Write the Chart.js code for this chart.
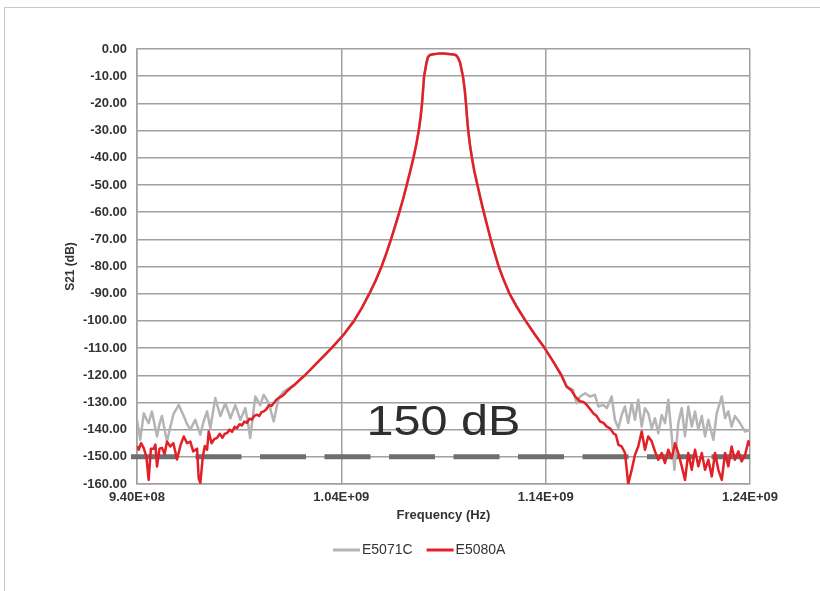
<!DOCTYPE html>
<html>
<head>
<meta charset="utf-8">
<script src="https://cdn.jsdelivr.net/npm/chart.js@4.4.1/dist/chart.umd.min.js"></script>
<style>
  html, body { margin: 0; padding: 0; background: #fff; }
  #wrap { position: relative; width: 820px; height: 591px; overflow: hidden; }
  #frame { position: absolute; left: 4px; top: 7px; width: 830px; height: 600px;
           border-top: 1.5px solid #c8c8c8; border-left: 1.5px solid #c8c8c8; }
  canvas { position: absolute; left: 0; top: 0; }
</style>
</head>
<body>
<div id="wrap">
  <div id="frame"></div>
  <canvas id="c" width="820" height="591"></canvas>
</div>
<script>
// ---------- data (frequency in MHz, level in dB) ----------
const seriesNames = ['E5071C', 'E5080A'];
const xTickValues = [940, 1040, 1140, 1240];
const xTickLabels = ['9.40E+08', '1.04E+09', '1.14E+09', '1.24E+09'];
const thresholdDb = -150;
const thresholdText = '150 dB';
const thresholdTextFreq = 1090;
const thresholdTextDb = -141.8;

// common filter skirt (both analyzers)
const skirtFreq = [1022.2, 1028.7, 1035.2, 1041.2, 1046.2, 1050.2, 1053.7, 1056.9, 1059.7, 1062.1,
  1064.3, 1066.4, 1068.4, 1070.3, 1072.0, 1073.7, 1075.3, 1076.7, 1077.9, 1078.8,
  1079.5, 1080.0, 1080.5, 1081.7, 1082.4, 1083.3, 1085.0, 1087.5, 1090.0, 1092.5,
  1095.0, 1096.3, 1097.1, 1098.1, 1099.5, 1100.4, 1101.0, 1101.5, 1102.1, 1102.9,
  1103.9, 1105.1, 1106.6, 1108.1, 1109.7, 1111.4, 1113.1, 1115.0, 1117.0, 1119.5,
  1122.3, 1126.0, 1130.2, 1134.7, 1139.5, 1143.7, 1147.7];
const skirtDb = [-120, -115, -110, -105, -100, -95, -90, -85, -80, -75,
  -70, -65, -60, -55, -50, -45, -40, -35, -30, -25,
  -20, -15, -10, -5, -3, -2.2, -1.9, -1.7, -1.7, -1.8,
  -2.0, -2.4, -3.2, -5, -10, -15, -20, -25, -30, -35,
  -40, -45, -50, -55, -60, -65, -70, -75, -80, -85,
  -90, -95, -100, -105, -110, -115, -120];

// E5080A (red) noise floor
const e5080aLeftFreq = [940.0, 940.8, 942.0, 943.3, 944.6, 945.7, 946.8, 948.2, 949.0, 949.8,
  951.0, 952.2, 953.5, 954.7, 956.3, 957.8, 959.6, 961.2, 962.9, 964.5,
  966.1, 967.5, 969.4, 970.2, 971.0, 972.2, 973.2, 974.3, 975.1, 976.5,
  977.8, 979.2, 980.5, 981.8, 983.0, 984.0, 985.3, 986.5, 987.8, 988.9,
  990.2, 991.3, 992.6, 993.8, 995.0, 996.2, 997.4, 998.6, 999.8, 1001.0,
  1002.0, 1003.3, 1004.6, 1005.8, 1006.9, 1008.2, 1009.5, 1010.7, 1011.8, 1013.5,
  1015.0, 1016.7, 1018.3, 1020.2];
const e5080aLeftDb = [-146, -147.4, -145, -146.8, -150, -158.5, -147, -147, -145.5, -153.6,
  -147, -146.7, -149, -144.4, -146.2, -145, -151, -146, -142.5, -145,
  -144.4, -148, -147, -158, -159.6, -150, -146, -147.4, -140.7, -145,
  -143.5, -143, -141.5, -143, -141.5, -141.3, -140, -140.8, -139, -139.5,
  -138, -138.5, -137, -137.5, -136, -136.3, -135, -134.5, -135, -133.5,
  -133.3, -132.5, -131, -131.3, -130.3, -129, -128.3, -127.8, -127.2, -125.8,
  -124.8, -123.8, -122.6, -121.3];
const e5080aRightFreq = [1150.3, 1152.5, 1154.4, 1156.8, 1158.5, 1160.1, 1161.8, 1163.3, 1165.0, 1166.6,
  1168.3, 1169.9, 1171.5, 1173.1, 1174.4, 1175.6, 1177.2, 1178.8, 1180.4, 1182.1,
  1183.7, 1185.3, 1187.0, 1188.6, 1190.2, 1191.9, 1193.5, 1195.1, 1196.8, 1198.4,
  1200.0, 1201.7, 1203.3, 1204.9, 1206.6, 1208.2, 1209.8, 1211.5, 1213.1, 1214.7,
  1216.4, 1218.0, 1219.6, 1221.3, 1222.9, 1224.5, 1226.2, 1227.8, 1229.4, 1231.0,
  1232.6, 1234.3, 1235.9, 1237.6, 1239.2, 1240.0];
const e5080aRightDb = [-124.2, -125.5, -127.8, -129.6, -129.8, -130.9, -132.5, -134, -135, -137,
  -137.5, -138.9, -139.5, -141.3, -142, -145.6, -146.2, -148.5, -160, -154.8,
  -149.3, -146.2, -140.7, -147.4, -142.5, -144.3, -148, -151.1, -148.6, -152.3,
  -147.4, -150.5, -145, -148.6, -153.5, -158.5, -148.6, -154.8, -147.4, -153.5,
  -148.6, -154.8, -151.1, -157.2, -148.6, -154.8, -158.5, -148.6, -153.5, -146.2,
  -151.1, -148, -151.7, -149.3, -144.3, -146];

// E5071C (grey) noise floor
const e5071cLeftFreq = [940.0, 941.6, 943.3, 944.5, 945.7, 947.3, 948.6, 949.8, 951.0, 952.2,
  953.5, 954.7, 956.3, 958.0, 960.4, 962.9, 964.5, 966.1, 968.5, 971.0,
  972.6, 974.3, 975.9, 978.3, 980.8, 983.2, 985.7, 988.1, 990.6, 993.0,
  994.2, 995.4, 997.9, 1000.3, 1002.0, 1004.5, 1006.9, 1009.3, 1011.8, 1014.9, 1018.3];
const e5071cLeftDb = [-136.4, -143.8, -134, -136, -137.6, -133.3, -138, -142.5, -138, -135,
  -140, -144.3, -139, -134, -131, -135, -138, -140, -136.4, -141.9,
  -137, -133.3, -139.5, -128.4, -135, -130.3, -135.8, -131, -136.4, -132.1,
  -137, -143.1, -127.8, -131, -127.2, -130.3, -137, -128.4, -126, -124.5, -122.8];
const e5071cRightFreq = [1150.3, 1153.4, 1155.2, 1156.8, 1159.3, 1161.7, 1164.1, 1165.8, 1168.2, 1169.9,
  1172.3, 1173.9, 1175.6, 1177.2, 1178.8, 1180.4, 1182.1, 1183.7, 1185.3, 1187.0,
  1188.6, 1190.2, 1191.9, 1193.5, 1195.1, 1196.8, 1198.4, 1200.0, 1201.7, 1203.0,
  1204.9, 1206.6, 1208.2, 1209.8, 1211.5, 1213.1, 1214.7, 1216.4, 1218.0, 1219.6,
  1222.1, 1223.7, 1226.2, 1227.8, 1229.4, 1231.0, 1232.6, 1235.1, 1237.6, 1240.0];
const e5071cRightDb = [-124.2, -125.4, -130.3, -127.8, -126.6, -127.8, -127.2, -131.5, -130.9, -132.1,
  -127.8, -136.4, -139.5, -134.6, -131.5, -137.6, -130.3, -136.4, -129, -138.9,
  -132.1, -134, -139.5, -135.8, -141.3, -134.6, -137.6, -129, -142.5, -154.8,
  -137.6, -132.1, -142.5, -131.5, -138.9, -133.3, -140, -135, -142.5, -136.4,
  -143.8, -134, -127.8, -135.8, -133.3, -138.9, -135, -137.6, -140.7, -140];

// ---------- build point lists ----------
function toPoints(freqs, dbs) { return freqs.map((f, i) => ({ x: f, y: dbs[i] })); }
const greyData = toPoints(e5071cLeftFreq, e5071cLeftDb)
  .concat(toPoints(skirtFreq, skirtDb), toPoints(e5071cRightFreq, e5071cRightDb));
const redData = toPoints(e5080aLeftFreq, e5080aLeftDb)
  .concat(toPoints(skirtFreq, skirtDb), toPoints(e5080aRightFreq, e5080aRightDb));

const GREY = '#b4b4b4';
const RED = '#e31f28';
const TEXT = '#333333';
const GRID = '#a0a0a0';
const FONT = '"Liberation Sans", Arial, Helvetica, sans-serif';

Chart.defaults.font.family = FONT;
Chart.defaults.color = TEXT;

const thresholdPlugin = {
  id: 'threshold',
  beforeDatasetsDraw(chart) {
    const { ctx, chartArea, scales } = chart;
    const y = scales.y.getPixelForValue(thresholdDb);
    ctx.save();
    ctx.beginPath();
    ctx.rect(chartArea.left - 6, chartArea.top, chartArea.right - chartArea.left + 6, chartArea.bottom - chartArea.top);
    ctx.clip();
    ctx.strokeStyle = '#6f6f6f';
    ctx.lineWidth = 5;
    ctx.setLineDash([46, 18.5]);
    ctx.beginPath();
    ctx.moveTo(chartArea.left - 6, y);
    ctx.lineTo(chartArea.right, y);
    ctx.stroke();
    ctx.restore();
  },
  afterDatasetsDraw(chart) {
    const { ctx, scales } = chart;
    const x = scales.x.getPixelForValue(thresholdTextFreq);
    const y = scales.y.getPixelForValue(thresholdTextDb);
    ctx.save();
    ctx.translate(x, y);
    ctx.scale(1.13, 1);
    ctx.font = '43px ' + FONT;
    ctx.fillStyle = '#2e2e2e';
    ctx.textAlign = 'center';
    ctx.textBaseline = 'alphabetic';
    ctx.fillText(thresholdText, 0, 0);
    ctx.restore();
  }
};

const legendPlugin = {
  id: 'customLegend',
  afterDraw(chart) {
    const { ctx } = chart;
    const y = 550;
    let x = 333;
    ctx.save();
    ctx.font = '14px ' + FONT;
    ctx.textBaseline = 'middle';
    ctx.textAlign = 'left';
    chart.data.datasets.forEach(ds => {
      ctx.strokeStyle = ds.borderColor;
      ctx.lineWidth = 3;
      ctx.beginPath();
      ctx.moveTo(x, y);
      ctx.lineTo(x + 27, y);
      ctx.stroke();
      ctx.fillStyle = TEXT;
      ctx.fillText(ds.label, x + 29, y);
      x += 29 + ctx.measureText(ds.label).width + 14;
    });
    ctx.restore();
  }
};

new Chart(document.getElementById('c'), {
  type: 'line',
  data: {
    datasets: [
      { label: seriesNames[0], data: greyData, borderColor: GREY, backgroundColor: GREY,
        borderWidth: 2.5, pointRadius: 0, tension: 0, order: 1, borderJoinStyle: 'round' },
      { label: seriesNames[1], data: redData, borderColor: RED, backgroundColor: RED,
        borderWidth: 2.5, pointRadius: 0, tension: 0, order: 0, borderJoinStyle: 'round' }
    ]
  },
  options: {
    responsive: false,
    devicePixelRatio: 1,
    animation: false,
    layout: { padding: { left: 59, top: 49, right: 70, bottom: 0 } },
    plugins: { legend: { display: false }, tooltip: { enabled: false } },
    scales: {
      x: {
        type: 'linear',
        min: 940, max: 1240,
        afterBuildTicks: s => { s.ticks = xTickValues.map(v => ({ value: v })); },
        afterFit: s => { s.height = 107; },
        ticks: {
          padding: 6,
          color: TEXT,
          font: { size: 13, weight: 'bold' },
          maxRotation: 0,
          callback: (v) => xTickLabels[xTickValues.indexOf(v)]
        },
        grid: { color: GRID, lineWidth: 1.5, drawTicks: false },
        border: { color: GRID, width: 1.5 },
        title: { display: true, text: 'Frequency (Hz)', color: TEXT,
                 font: { size: 13, weight: 'bold' }, padding: { top: 4, bottom: 68 } }
      },
      y: {
        type: 'linear',
        min: -160, max: 0,
        afterFit: s => { s.width = 78; },
        ticks: {
          stepSize: 10,
          padding: 10,
          color: TEXT,
          font: { size: 13, weight: 'bold' },
          callback: v => Number(v).toFixed(2)
        },
        grid: { color: GRID, lineWidth: 1.5, drawTicks: false },
        border: { color: GRID, width: 1.5 },
        title: { display: true, text: 'S21 (dB)', color: TEXT,
                 font: { size: 12, weight: 'bold' }, padding: { top: 4, bottom: 4 } }
      }
    }
  },
  plugins: [thresholdPlugin, legendPlugin]
});
</script>
</body>
</html>
